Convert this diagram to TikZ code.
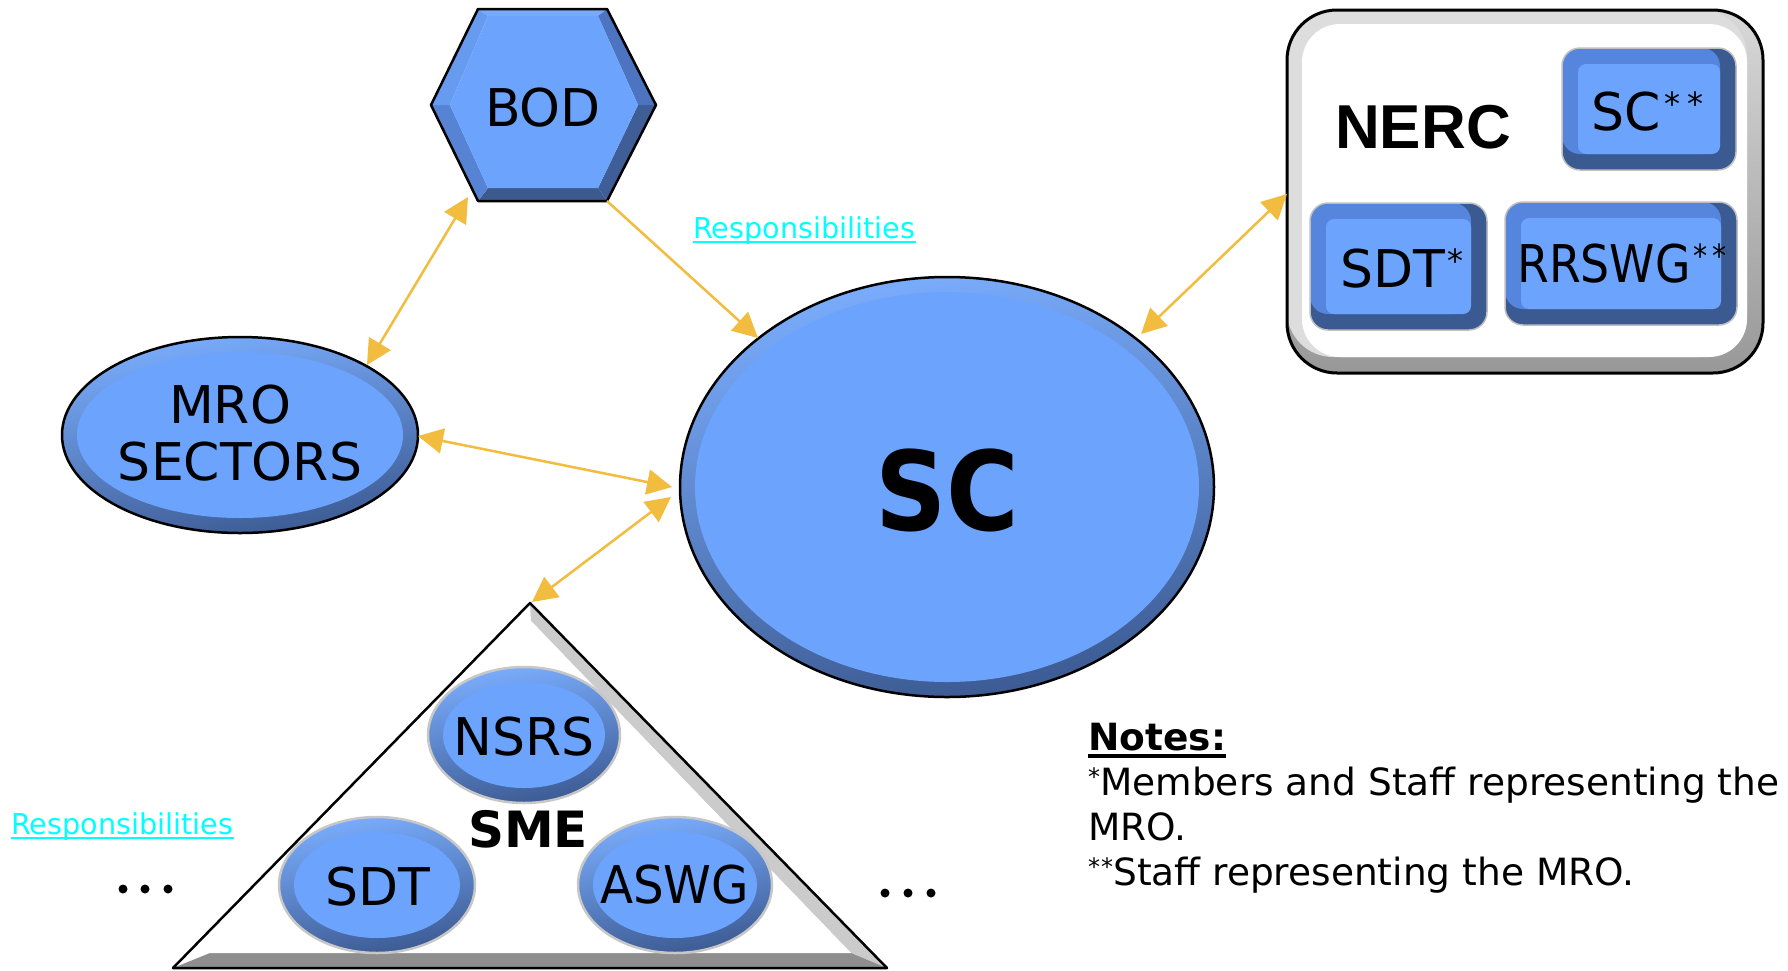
\documentclass[tikz,border=0pt]{standalone}
\usepackage{fontspec}
\setmainfont{DejaVu Sans}
\newfontfamily\arialfont{Liberation Sans}
\usetikzlibrary{arrows.meta}
\definecolor{face}{HTML}{6CA3FC}
\definecolor{bevtop}{HTML}{7AADFD}
\definecolor{bevmid}{HTML}{5585DC}
\definecolor{bevdark}{HTML}{3C5A92}
\definecolor{arrowc}{HTML}{F2BC3E}
\definecolor{linkc}{HTML}{00FFFF}
\definecolor{hexA}{HTML}{78AAFB}
\definecolor{hexB}{HTML}{4C74C0}
\definecolor{hexC}{HTML}{3F5E98}
\definecolor{hexD}{HTML}{3D5A8E}
\definecolor{hexE}{HTML}{5683D4}
\definecolor{hexF}{HTML}{679BF0}
\definecolor{nlight}{HTML}{DDDDDD}
\definecolor{ntop}{HTML}{D8D8D8}
\definecolor{nbot}{HTML}{989898}
\definecolor{trR}{HTML}{CBCBCB}
\definecolor{trB}{HTML}{8E8E8E}
\newcommand\supstar[2]{\raisebox{#2}{\fontsize{#1}{#1}\selectfont *}}
\newcommand\bevell[5]{%
  \fill[top color=bevtop, bottom color=bevdark, shading angle=10] (#1,#2) ellipse [x radius=#3pt, y radius=#4pt];
  \fill[face] (#1,#2) ellipse [x radius=#3pt-15pt, y radius=#4pt-15pt];
  \draw[#5] (#1,#2) ellipse [x radius=#3pt, y radius=#4pt];}
\newcommand\bevbox[4]{%
  \fill[bevdark, rounded corners=18pt] (#1,#2) rectangle (#3,#4);
  \fill[bevmid, rounded corners=18pt] (#1,#2) rectangle ({#3-16},{#4-16});
  \fill[face, rounded corners=8pt] ({#1+16},{#2+16}) rectangle ({#3-16},{#4-16});
  \draw[black!25, line width=1.5pt, rounded corners=18pt] (#1,#2) rectangle (#3,#4);}
\tikzset{
  lbl/.style={inner sep=0pt, font=\fontsize{52}{60}\selectfont},
  note/.style={inner sep=0pt, anchor=base west, font=\fontsize{37.5}{45}\selectfont},
  link/.style={inner sep=0pt, anchor=base west, text=linkc, font=\fontsize{28.7}{34}\selectfont},
  conn/.style={draw=arrowc, line width=2.5pt},
  onehead/.style={-{Triangle[length=25pt,width=25pt]}},
  twohead/.style={{Triangle[length=25pt,width=25pt]}-{Triangle[length=25pt,width=25pt]}},
  dotc/.style={fill=black}
}
\begin{document}
\begin{tikzpicture}[x=1pt,y=-1pt]
\useasboundingbox[fill=white] (0,0) rectangle (1788,970);

% ---------- BOD hexagon ----------
\coordinate (hTL) at (478,9);   \coordinate (hTR) at (607,9);
\coordinate (hR) at (656,105);  \coordinate (hBR) at (607,201);
\coordinate (hBL) at (478,201); \coordinate (hL) at (431,105);
\coordinate (iTL) at (488,16);  \coordinate (iTR) at (598,16);
\coordinate (iR) at (638,105);  \coordinate (iBR) at (598,188);
\coordinate (iBL) at (488,188); \coordinate (iL) at (450,105);
\fill[hexA] (hTL) -- (hTR) -- (iTR) -- (iTL) -- cycle;
\fill[hexB] (hTR) -- (hR) -- (iR) -- (iTR) -- cycle;
\fill[hexC] (hR) -- (hBR) -- (iBR) -- (iR) -- cycle;
\fill[hexD] (hBR) -- (hBL) -- (iBL) -- (iBR) -- cycle;
\fill[hexE] (hBL) -- (hL) -- (iL) -- (iBL) -- cycle;
\fill[hexF] (hL) -- (hTL) -- (iTL) -- (iL) -- cycle;
\fill[face] (iTL) -- (iTR) -- (iR) -- (iBR) -- (iBL) -- (iL) -- cycle;
\draw[black, line width=2.5pt, line join=round] (hTL) -- (hTR) -- (hR) -- (hBR) -- (hBL) -- (hL) -- cycle;
\node[lbl, anchor=base] (bod) at (543,126) {BOD};

% ---------- MRO SECTORS ----------
\bevell{240}{435}{178}{98}{black, line width=2.5pt}
\node[lbl, anchor=base] (mro1) at (230,423) {MRO};
\node[lbl, anchor=base] (mro2) at (240,480) {SECTORS};

% ---------- SC ----------
\bevell{947}{487}{267}{210}{black, line width=2.5pt}
\node[inner sep=0pt, anchor=base, font=\bfseries\fontsize{110}{120}\selectfont] (sc) at (947,530) {\scalebox{0.9}[1]{SC}};

% ---------- NERC ----------
\fill[top color=ntop, bottom color=nbot, rounded corners=50pt] (1287,10) rectangle (1763,373);
\fill[nlight, rounded corners=46pt] (1287,10) rectangle (1747,357);
\fill[white, rounded corners=38pt] (1302,24) rectangle (1747,357);
\draw[black, line width=3pt, rounded corners=50pt] (1287,10) rectangle (1763,373);
\node[inner sep=0pt, anchor=base west, font=\arialfont\bfseries\fontsize{62}{70}\selectfont] (nerc) at (1335,148) {NERC};
\bevbox{1562}{48}{1736}{170}
\bevbox{1310}{203}{1487}{330}
\bevbox{1505}{202}{1737}{325}
\node[lbl, anchor=base west] (nsc) at (1591,130) {SC\kern4pt\supstar{32}{15pt}\kern7pt\supstar{32}{15pt}};
\node[lbl, anchor=base west] (nsdt) at (1340,287) {SDT\kern2pt\supstar{32}{15pt}};
\node[lbl, anchor=base west] (nrr) at (1517,282) {\scalebox{0.88}[1]{RRSWG\kern3pt\supstar{32}{15pt}\kern6pt\supstar{32}{15pt}}};

% ---------- SME triangle ----------
\coordinate (tA) at (530,603); \coordinate (tB) at (173,968); \coordinate (tC) at (887,968);
\coordinate (uA) at (531,621); \coordinate (uB) at (210,953); \coordinate (uC) at (851,953);
\fill[trR] (tA) -- (tC) -- (uC) -- (uA) -- cycle;
\fill[trB] (tB) -- (tC) -- (uC) -- (uB) -- cycle;
\fill[white] (uA) -- (uB) -- (uC) -- cycle;
\draw[black, line width=2.5pt, line join=round] (tA) -- (tB) -- (tC) -- cycle;
\bevell{524}{735}{96}{68}{black!22, line width=2.5pt}
\bevell{377}{885}{98}{68}{black!22, line width=2.5pt}
\bevell{675}{885}{97}{68}{black!22, line width=2.5pt}
\node[lbl, anchor=base west] (nsrs) at (453,755) {NSRS};
\node[lbl, anchor=base west] (sdt) at (325,905) {SDT};
\node[lbl, anchor=base west] (aswg) at (600,903) {\scalebox{0.93}[1]{ASWG}};
\node[inner sep=0pt, anchor=base west, font=\bfseries\fontsize{50}{60}\selectfont] (sme) at (468,847) {SME};

% ---------- dots ----------
\fill[dotc] (123,889) circle (4.5pt) (145,889) circle (4.5pt) (168,889) circle (4.5pt);
\fill[dotc] (885,893) circle (4.5pt) (908,893) circle (4.5pt) (931,893) circle (4.5pt);

% ---------- links ----------
\node[link] (resp1) at (693,238) {Responsibilities};
\draw[linkc, line width=2pt] ([yshift=-4pt]resp1.base west) -- ([yshift=-4pt]resp1.base east);
\node[link] (resp2) at (11,834) {Responsibilities};
\draw[linkc, line width=2pt] ([yshift=-4pt]resp2.base west) -- ([yshift=-4pt]resp2.base east);

% ---------- notes ----------
\node[note, font=\bfseries\fontsize{37.5}{45}\selectfont] (notes) at (1088,750) {Notes:};
\draw[black, line width=4pt] ([yshift=-6pt]notes.base west) -- ([yshift=-6pt]notes.base east);
\node[note] (n1) at (1088,795) {\supstar{24}{10pt}Members and Staff representing the};
\node[note] (n2) at (1088,840) {MRO.};
\node[note] (n3) at (1088,885) {\supstar{24}{10pt}\kern1pt\supstar{24}{10pt}Staff representing the MRO.};

% ---------- connectors ----------
\coordinate (bodOut) at (607,201);
\coordinate (scTL) at (758,338);
\coordinate (bodBL) at (468,197);
\coordinate (mroTop) at (367,365);
\coordinate (mroRight) at (418,436);
\coordinate (scL1) at (672,487);
\coordinate (smeTop) at (532,602);
\coordinate (scL2) at (671,497);
\coordinate (nercL) at (1287,194);
\coordinate (scTR) at (1141,334);
\draw[conn, onehead] (bodOut) -- (scTL);
\draw[conn, twohead] (bodBL) -- (mroTop);
\draw[conn, twohead] (mroRight) -- (scL1);
\draw[conn, twohead] (smeTop) -- (scL2);
\draw[conn, twohead] (nercL) -- (scTR);
\end{tikzpicture}
\end{document}
